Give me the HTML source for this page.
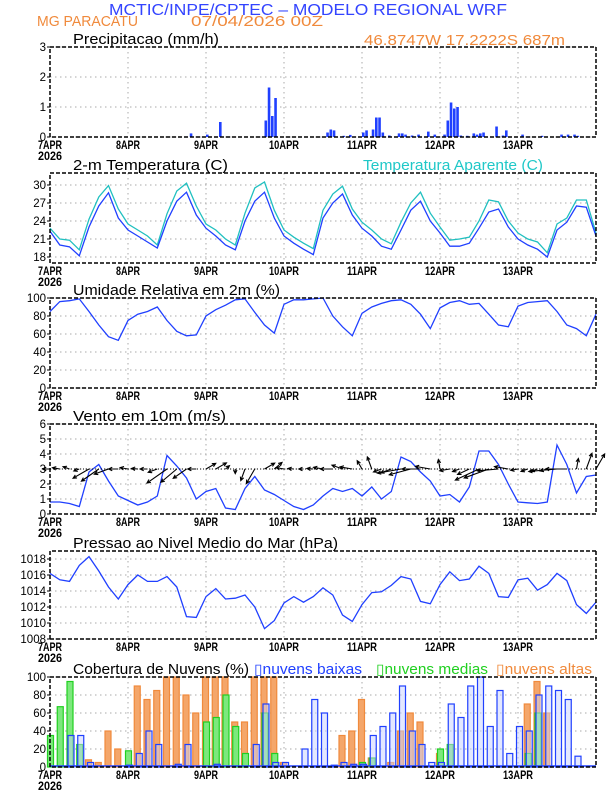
<!DOCTYPE html>
<html><head><meta charset="utf-8"><style>
body{margin:0;background:#fff}
svg{display:block}
text{font-family:"Liberation Sans",sans-serif}
</style></head><body>
<svg id="c" width="612" height="792" xmlns="http://www.w3.org/2000/svg">
<text x="109" y="15" font-size="16" fill="#3344ff" textLength="398" lengthAdjust="spacingAndGlyphs">MCTIC/INPE/CPTEC – MODELO REGIONAL WRF</text>
<text x="37" y="26" font-size="15" fill="#f08a3c" textLength="101" lengthAdjust="spacingAndGlyphs">MG PARACATU</text>
<text x="191" y="26" font-size="15" fill="#f08a3c" textLength="132" lengthAdjust="spacingAndGlyphs">07/04/2026 00Z</text>
<text x="364" y="45" font-size="15" fill="#f08a3c" textLength="201" lengthAdjust="spacingAndGlyphs">46.8747W 17.2222S 687m</text>
<g id="g"></g>
</svg>
<script>
const days=["7APR","8APR","9APR","10APR","11APR","12APR","13APR"];
const precipTicks=[0,1,2,3];
const precipHours=[43,48,52,66,67,68,69,85,86,87,90,92,96,97,99,100,101,102,104,107,108,109,111,113,116,118,121,122,123,124,125,126,128,130,131,132,133,137,139,140,145,151,157,159,161,162];
const precipVals=[0.12,0.08,0.5,0.55,1.65,0.7,1.3,0.15,0.25,0.22,0.04,0.07,0.15,0.22,0.25,0.65,0.65,0.15,0.05,0.12,0.12,0.08,0.05,0.08,0.18,0.08,0.08,0.55,1.15,0.95,1.0,0.05,0.04,0.12,0.08,0.12,0.15,0.35,0.05,0.22,0.08,0.04,0.08,0.08,0.08,0.04];
const tempTicks=[18,21,24,27,30];
const temp=[22.3,20,19.7,18.2,23,26.5,28.7,24.5, 22.5,21.5,20.5,19.5,24,27.3,28.8,25, 22.8,21.5,20,19.2,24,27.3,28.8,24.5, 21.5,20.3,19.3,18.4,24.5,27,28.5,25, 22.8,21.5,19.8,19.3,22.5,25.8,27.3,24, 22,19.8,19.8,20.3,22.8,25.5,26,23, 21,20,19.3,18,22.5,23.8,26.5,26.3,21.5];
const tempApp=[22.8,21,20.8,19.2,24.3,28,29.9,26, 23.5,22.5,21.5,20,25.2,29,30.3,26.5, 23.5,22.5,21,20,25.3,29.5,30.5,25.8, 22.5,21.3,20.3,19.4,25.8,28.5,29.8,26, 23.8,22.5,21,20.2,23.8,27,28.8,25.3, 23,20.8,21,21.3,24,27.5,27.2,24, 22,21,20.5,18.7,23.5,24.5,27.5,27.5,22];
const rhTicks=[0,20,40,60,80,100];
const rh=[85,96,97,99,85,70,57,53, 75,82,85,90,75,63,58,59, 80,87,92,98,99,84,70,61, 93,98,98,99,100,80,68,58, 83,90,94,97,98,93,82,66, 89,95,97,93,94,82,70,68, 91,95,96,97,85,70,66,58,82];
const windTicks=[0,1,2,3,4,5,6];
const windSpeed=[0.8,0.8,0.7,0.5,2.8,3.3,2.2,1.2, 0.9,0.6,0.8,1.2,3.9,3.2,2.4,1.0, 1.5,1.7,0.4,0.3,1.7,2.5,1.6,1.3, 0.9,0.5,0.3,0.6,1.2,1.7,1.5,1.7, 1.2,1.8,1.0,1.5,3.8,3.5,2.8,2.2, 1.2,1.3,0.8,1.8,4.2,4.2,3.3,2.0, 0.8,0.75,0.7,0.8,4.6,3.3,1.4,2.5,2.6];
const windDir=[180,170,160,200,210,215,200,180, 170,175,180,200,215,220,215,180, 30,30,40,270,250,240,30,40, 170,175,180,175,170,180,160,170, 120,110,200,200,190,195,180,170, 100,190,200,205,205,200,185,170, 190,200,200,195,185,180,80,70,60];
const presTicks=[1008,1010,1012,1014,1016,1018];
const pres=[1016.2,1015.4,1015.2,1017.2,1018.3,1016.5,1014.5,1013.0, 1014.8,1016.0,1015.2,1015.2,1015.8,1014.5,1010.8,1010.7, 1013.3,1014.3,1013.0,1013.1,1013.5,1012.0,1009.3,1010.3, 1012.5,1013.3,1012.6,1013.3,1014.4,1013.5,1011.0,1010.2, 1012.3,1013.8,1013.9,1014.7,1015.8,1015.5,1012.7,1012.4, 1014.8,1016.4,1015.3,1015.5,1017.1,1016.2,1013.3,1013.2, 1015.4,1015.6,1014.1,1014.8,1016.2,1015.3,1012.3,1011.2,1012.6];
const cloudTicks=[0,20,40,60,80,100];
const cloudHigh=[0,0,0,0,8,5,40,20, 0,90,75,85,100,100,80,60, 100,100,100,50,50,100,100,100, 5,0,0,0,0,0,35,40, 75,10,0,5,40,60,50,0, 15,0,0,0,0,0,0,0, 0,70,95,60,0,0,0,0,0];
const cloudMid=[35,67,95,25,0,0,0,0, 18,0,0,0,0,0,0,0, 50,55,80,45,15,0,60,15, 0,0,0,0,0,0,0,0, 5,10,0,0,0,0,0,0, 20,25,0,0,0,0,0,0, 0,15,60,0,0,0,0,0,0];
const cloudLow=[0,0,35,35,5,0,0,0, 2,15,40,25,0,3,25,0, 0,3,0,0,0,25,70,5, 5,0,20,75,60,2,5,3, 3,35,45,60,90,40,25,5, 5,70,55,90,100,45,85,15, 45,40,80,90,85,75,12,0,0];

const NS='http://www.w3.org/2000/svg';
const G=document.getElementById('g');
const X0=50,X1=596,DAY=78;
function xh(h){return X0+h/24*DAY;}
function mk(tag,at,parent){const e=document.createElementNS(NS,tag);for(const k in at)e.setAttribute(k,at[k]);(parent||G).appendChild(e);return e;}
function panel(name,title,titleW,top,bot,min,max,ticks){
  const gg=mk('g',{});
  
  
  const y=v=>bot-(v-min)/(max-min)*(bot-top);
  ticks.forEach(t=>{
    const l=mk('line',{x1:X0,x2:X1,y1:y(t),y2:y(t),stroke:'#aaa','stroke-dasharray':'1.5,3.5'},gg);
    
    
    const tx=mk('text',{x:X0-4,y:y(t)+4,'text-anchor':'end','font-size':11.5},gg);
    tx.textContent=t;
    
    
    mk('line',{x1:X0-3,x2:X0,y1:y(t),y2:y(t),stroke:'#000'},gg);
  });
  days.forEach((d,i)=>{
    const xx=X0+i*DAY;
    if(i>0)mk('line',{x1:xx,x2:xx,y1:top,y2:bot,stroke:'#aaa','stroke-dasharray':'1.5,3.5'},gg);
    const w=d.length*6;
    const tx=mk('text',{x:xx-w/2,y:bot+12,'font-size':11.5,'font-weight':'bold',textLength:w,lengthAdjust:'spacingAndGlyphs'},gg);
    tx.textContent=d;
    
    
  });
  const yr=mk('text',{x:38,y:bot+23,'font-size':11.5,'font-weight':'bold',textLength:24,lengthAdjust:'spacingAndGlyphs'},gg);
  yr.textContent='2026';
  
  
  const tt=mk('text',{x:73,y:top-3,'font-size':14.5,textLength:titleW,lengthAdjust:'spacingAndGlyphs'},gg);
  tt.textContent=title;
  
  
  return {y,gg,top,bot};
}
function frame(p){
  mk('path',{d:`M${X0},${p.bot}V${p.top}H${X1}`,fill:'none',stroke:'#000','stroke-width':1.5,'stroke-dasharray':'4,2'},p.gg);
  mk('path',{d:`M${X1},${p.top}V${p.bot}H${X0}`,fill:'none',stroke:'#000','stroke-width':1.5,'stroke-dasharray':'4,2'},p.gg);
}
function line(p,arr,color,name){
  const d=arr.map((v,i)=>(i?'L':'M')+xh(i*3).toFixed(1)+','+p.y(v).toFixed(1)).join('');
  const e=mk('path',{d,fill:'none',stroke:color,'stroke-width':1.3},p.gg);
  
  
}
// precip
const P1=panel('precip','Precipitacao (mm/h)',146,47,137,0,3,precipTicks);
precipHours.forEach((h,i)=>{
  const r=mk('rect',{x:xh(h),y:P1.y(precipVals[i]),width:2.6,height:137-P1.y(precipVals[i]),fill:'#2040ff'},P1.gg);
  
  
});
frame(P1);
// temp
const P2=panel('temp','2-m Temperatura (C)',155,173,263,17,32,tempTicks);
const ta=mk('text',{x:363,y:170,'font-size':14.5,fill:'#20c8c8',textLength:180,lengthAdjust:'spacingAndGlyphs'},P2.gg);ta.textContent='Temperatura Aparente (C)';


line(P2,tempApp,'#20c0c0','apparent-temp-line');
line(P2,temp,'#2040ff','temp-line');
frame(P2);
// rh
const P3=panel('rh','Umidade Relativa em 2m (%)',207,298,388,0,100,rhTicks);
line(P3,rh,'#2040ff','rh-line');
frame(P3);
// wind
const P4=panel('wind','Vento em 10m (m/s)',153,424,514,0,6,windTicks);
line(P4,windSpeed,'#2040ff','wind-speed-line');
const by=P4.y(3);
windSpeed.forEach((s,i)=>{
  const a=windDir[i]*Math.PI/180,L=3+s*5.5;
  const x=xh(i*3),x2=x+L*Math.cos(a),y2=by-L*Math.sin(a);
  const h1=a+Math.PI-0.45,h2=a+Math.PI+0.45;
  const ar=mk('path',{d:`M${x},${by}L${x2},${y2}M${x2+4*Math.cos(h1)},${y2-4*Math.sin(h1)}L${x2},${y2}L${x2+4*Math.cos(h2)},${y2-4*Math.sin(h2)}`,stroke:'#000',fill:'none','stroke-width':1.1},P4.gg);
  
  
});
mk('line',{x1:X0,x2:X1,y1:by,y2:by,stroke:'#000','stroke-dasharray':'1,2'},P4.gg);
frame(P4);
// pressure
const P5=panel('pressure','Pressao ao Nivel Medio do Mar (hPa)',265,551,639,1008,1019,presTicks);
line(P5,pres,'#2040ff','pressure-line');
frame(P5);
// clouds
const P6=panel('cloud','Cobertura de Nuvens (%)',176,677,767,0,100,cloudTicks);
[['nuvens baixas','#2040ff',254,108],['nuvens medias','#20d020',376,112],['nuvens altas','#f08a3c',496,96]].forEach(l=>{
  const t=mk('text',{x:l[2],y:674,'font-size':14.5,fill:l[1],textLength:l[3],lengthAdjust:'spacingAndGlyphs'},P6.gg);t.textContent='\u25AF'+l[0];
  
  
});
function cbars(arr,fill,stroke,name,off){
  arr.forEach((v,i)=>{
    if(v<=0)return;
    const r=mk('rect',{x:xh(i*3)-3.5+off,y:P6.y(v),width:6,height:767-P6.y(v),fill,stroke,'stroke-width':1.2},P6.gg);
    
    
  });
}
cbars(cloudHigh,'#f4a66a','#f08a3c','cloud-high-bar',0);
cbars(cloudMid,'#7de87d','#20d020','cloud-mid-bar',1);
cbars(cloudLow,'rgba(200,210,255,0.5)','#2040ff','cloud-low-bar',2);
mk('line',{x1:X0,x2:X1,y1:766,y2:766,stroke:'#2040ff','stroke-width':1.5},P6.gg);
frame(P6);
</script>
</body></html>
